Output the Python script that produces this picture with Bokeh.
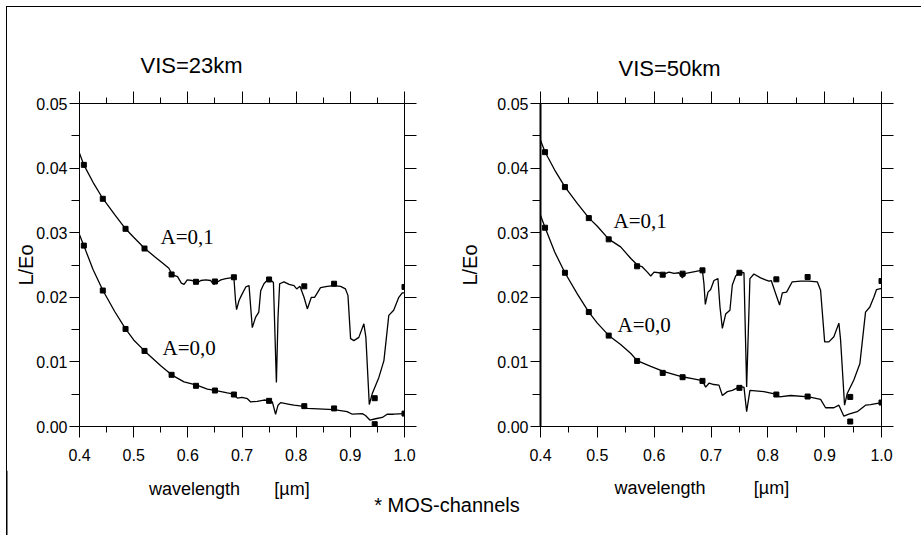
from bokeh.plotting import figure
from bokeh.layouts import row, column
from bokeh.models import (Range1d, LinearAxis, FixedTicker, PrintfTickFormatter,
                          Label, ColumnDataSource)
from bokeh.core.properties import value
from bokeh.embed import file_html
from bokeh.resources import INLINE

# ---------------- data ----------------
MOS_CHANNELS = [0.408, 0.443, 0.485, 0.520, 0.570, 0.615, 0.650, 0.685,
                0.750, 0.815, 0.870, 0.945, 1.000]

X_TICKS = [0.4, 0.5, 0.6, 0.7, 0.8, 0.9, 1.0]
X_MINOR = [0.45, 0.55, 0.65, 0.75, 0.85, 0.95]
Y_TICKS = [0.00, 0.01, 0.02, 0.03, 0.04, 0.05]
Y_MINOR = [0.005, 0.015, 0.025, 0.035, 0.045]

# VIS = 23 km
vis23_a01_wl = [0.400, 0.408, 0.425, 0.443, 0.465, 0.485, 0.500, 0.520, 0.540, 0.555,
                0.565, 0.571, 0.581, 0.588, 0.593, 0.599, 0.608, 0.6165, 0.624, 0.633,
                0.642, 0.648, 0.653, 0.661, 0.670, 0.685, 0.688, 0.690, 0.6945, 0.699,
                0.707, 0.713, 0.716, 0.719, 0.725, 0.731, 0.7345, 0.7405, 0.747, 0.753,
                0.758, 0.7635, 0.7665, 0.7695, 0.7775, 0.787, 0.796, 0.801, 0.807, 0.8145,
                0.8206, 0.828, 0.834, 0.845, 0.8575, 0.870, 0.882, 0.891, 0.8956, 0.9005,
                0.9066, 0.9157, 0.925, 0.9287, 0.935, 0.9405, 0.9527, 0.962, 0.971, 0.980,
                0.9895, 0.9958, 1.000]
vis23_a01_L = [0.0423, 0.0405, 0.0378, 0.0353, 0.0328, 0.0306, 0.0293, 0.0276, 0.0262, 0.0252,
               0.0245, 0.0235, 0.0232, 0.0222, 0.0220, 0.0227, 0.0226, 0.0222, 0.0226, 0.0227,
               0.0226, 0.0220, 0.0223, 0.0227, 0.0229, 0.0231, 0.0195, 0.0181, 0.0195, 0.0203,
               0.0216, 0.0218, 0.0185, 0.0153, 0.0169, 0.0177, 0.0210, 0.0221, 0.0227, 0.0227,
               0.0223, 0.0068, 0.0169, 0.0221, 0.0224, 0.0220, 0.0218, 0.0213, 0.0217, 0.0200,
               0.0182, 0.0200, 0.0200, 0.0215, 0.0217, 0.0218, 0.0217, 0.0213, 0.0203, 0.0136,
               0.0133, 0.0138, 0.0159, 0.0138, 0.0034, 0.0051, 0.0076, 0.0102, 0.0172, 0.0180,
               0.0200, 0.0207, 0.0207]
vis23_a00_wl = [0.400, 0.408, 0.425, 0.443, 0.465, 0.485, 0.500, 0.520, 0.550, 0.570,
                0.593, 0.6165, 0.636, 0.650, 0.673, 0.685, 0.6915, 0.700, 0.710, 0.716,
                0.728, 0.7405, 0.750, 0.756, 0.762, 0.7665, 0.7713, 0.790, 0.796, 0.8145,
                0.8206, 0.870, 0.894, 0.9036, 0.922, 0.928, 0.936, 0.9466, 0.959, 0.968,
                0.980, 1.000]
vis23_a00_L = [0.0297, 0.0280, 0.0243, 0.0211, 0.0178, 0.0151, 0.0134, 0.0117, 0.0094, 0.0080,
               0.0069, 0.0064, 0.0058, 0.0056, 0.0052, 0.0050, 0.0044, 0.0045, 0.0043, 0.0038,
               0.0039, 0.0041, 0.0040, 0.0038, 0.0019, 0.0033, 0.0037, 0.0034, 0.0033, 0.0031,
               0.0028, 0.0026, 0.0023, 0.0019, 0.0020, 0.0017, 0.0010, 0.0012, 0.0014, 0.0019,
               0.0019, 0.0020]
vis23_mos_a01 = [0.0405, 0.03525, 0.0306, 0.02755, 0.02353, 0.0224, 0.02245, 0.0231,
                 0.02276, 0.0217, 0.0221, 0.00438, 0.0216]
vis23_mos_a00 = [0.0280, 0.02105, 0.0151, 0.0117, 0.0080, 0.0063, 0.00557, 0.00495,
                 0.00397, 0.00315, 0.0028, 0.00036, 0.0020]

# VIS = 50 km
vis50_a01_wl = [0.400, 0.408, 0.425, 0.443, 0.465, 0.485, 0.500, 0.520, 0.541, 0.559,
                0.5705, 0.5793, 0.588, 0.594, 0.5998, 0.6085, 0.6173, 0.626, 0.635, 0.6437,
                0.6496, 0.6555, 0.667, 0.6848, 0.6876, 0.690, 0.6947, 0.6994, 0.7052, 0.7122,
                0.7158, 0.720, 0.7258, 0.7333, 0.7375, 0.7434, 0.751, 0.758, 0.7627, 0.7685,
                0.7755, 0.7873, 0.796, 0.8019, 0.806, 0.8137, 0.8207, 0.8255, 0.833, 0.843,
                0.8577, 0.8722, 0.887, 0.8928, 0.900, 0.9074, 0.9162, 0.925, 0.928, 0.935,
                0.9397, 0.9513, 0.9619, 0.9719, 0.9795, 0.9865, 0.9913, 1.000]
vis50_a01_L = [0.0443, 0.0425, 0.0397, 0.0371, 0.0345, 0.0323, 0.0310, 0.0290, 0.0278, 0.0260,
               0.0250, 0.0247, 0.0239, 0.0233, 0.0239, 0.0238, 0.0236, 0.0239, 0.0237, 0.0238,
               0.0230, 0.0237, 0.0239, 0.0242, 0.0221, 0.0189, 0.0208, 0.0212, 0.0226, 0.0229,
               0.0185, 0.0152, 0.0174, 0.0180, 0.0219, 0.0233, 0.0239, 0.0238, 0.0061, 0.0229,
               0.0236, 0.0230, 0.0227, 0.0225, 0.0226, 0.0206, 0.0188, 0.0207, 0.0208, 0.0224,
               0.0225, 0.0225, 0.0224, 0.0211, 0.0131, 0.0131, 0.0139, 0.0160, 0.0134, 0.0033,
               0.0051, 0.0072, 0.0097, 0.0177, 0.0185, 0.0200, 0.0212, 0.0214]
vis50_a00_wl = [0.400, 0.408, 0.425, 0.443, 0.465, 0.485, 0.500, 0.520, 0.541, 0.559,
                0.570, 0.594, 0.6173, 0.6496, 0.667, 0.6848, 0.6906, 0.6964, 0.7052, 0.714,
                0.720, 0.7288, 0.7375, 0.7492, 0.758, 0.7627, 0.7685, 0.793, 0.8137, 0.8207,
                0.840, 0.8722, 0.8928, 0.9016, 0.9162, 0.925, 0.9338, 0.9425, 0.9573, 0.9719,
                0.9807, 1.000]
vis50_a00_L = [0.0327, 0.0308, 0.0270, 0.0238, 0.0205, 0.0177, 0.0160, 0.0141, 0.0127, 0.0113,
               0.0102, 0.0093, 0.0085, 0.0077, 0.0074, 0.0071, 0.0061, 0.0067, 0.0065, 0.0064,
               0.0048, 0.0054, 0.0056, 0.0061, 0.0061, 0.0023, 0.0056, 0.0054, 0.0050, 0.0046,
               0.0048, 0.0046, 0.0042, 0.0029, 0.0029, 0.0033, 0.0016, 0.0019, 0.0023, 0.0033,
               0.0034, 0.0037]
vis50_mos_a01 = [0.04247, 0.03706, 0.03226, 0.02897, 0.0248, 0.0235, 0.02366, 0.02417,
                 0.0238, 0.02278, 0.02314, 0.00458, 0.02252]
vis50_mos_a00 = [0.03077, 0.0238, 0.01772, 0.01407, 0.01015, 0.0083, 0.00763, 0.00706,
                 0.00598, 0.00495, 0.00464, 0.00077, 0.00371]

SANS = "Liberation Sans"
SERIF = "Liberation Serif"
X0, X1, Y0, Y1 = 0.4, 1.0, 0.0, 0.05


def transparent(p):
    p.border_fill_alpha = 0
    p.background_fill_alpha = 0


def panel(width, height, fl, fw, ft, fh, page_left, page_top, title, title_off,
          title_standoff, ylab_standoff, a01_pos, a00_pos, wl01, L01, wl00, L00,
          mos01, mos00, thick_left=False):
    p = figure(width=width, height=height, output_backend="svg", toolbar_location=None,
               x_range=Range1d(X0, X1), y_range=Range1d(Y0, Y1),
               x_axis_location=None, y_axis_location=None)
    p.min_border_left = fl
    p.min_border_right = width - fl - fw
    p.min_border_top = ft
    p.min_border_bottom = height - ft - fh
    p.outline_line_color = None
    p.xgrid.visible = False
    p.ygrid.visible = False
    transparent(p)

    p.title.text = title
    p.title.align = "left"
    p.title.offset = title_off
    p.title.standoff = title_standoff
    p.title.text_font = SANS
    p.title.text_font_size = "22px"
    p.title.text_font_style = "normal"
    p.title.text_color = "black"

    xt = FixedTicker(ticks=X_TICKS, minor_ticks=X_MINOR)
    yt = FixedTicker(ticks=Y_TICKS, minor_ticks=Y_MINOR)

    def style(ax, tout, mout, labels, standoff=2):
        ax.axis_line_color = "black"
        ax.axis_line_width = 1
        ax.major_tick_line_color = "black"
        ax.minor_tick_line_color = "black"
        ax.major_tick_in = 0
        ax.minor_tick_in = 0
        ax.major_tick_out = tout
        ax.minor_tick_out = mout
        ax.major_label_standoff = standoff
        if labels:
            ax.major_label_text_font = SANS
            ax.major_label_text_font_size = "16px"
            ax.major_label_text_color = "black"
        else:
            ax.major_label_text_font_size = "0px"
            ax.major_label_text_alpha = 0

    bottom = LinearAxis(ticker=xt, formatter=PrintfTickFormatter(format="%.1f"))
    style(bottom, 11, 6, True, standoff=11)
    p.add_layout(bottom, "below")
    top = LinearAxis(ticker=xt)
    style(top, 12, 6, False, standoff=0)
    p.add_layout(top, "above")
    left = LinearAxis(ticker=yt, formatter=PrintfTickFormatter(format="%.2f"),
                      axis_label="L/Eo")
    style(left, 10, 8, True, standoff=2)
    left.axis_label_text_font = SANS
    left.axis_label_text_font_size = "20px"
    left.axis_label_text_font_style = "normal"
    left.axis_label_text_color = "black"
    left.axis_label_standoff = ylab_standoff
    if thick_left:
        left.axis_line_width = 2
    p.add_layout(left, "left")
    right = LinearAxis(ticker=yt)
    style(right, 12, 12, False, standoff=0)
    p.add_layout(right, "right")

    p.line(wl01, L01, line_color="black", line_width=1.3)
    p.line(wl00, L00, line_color="black", line_width=1.3)
    p.scatter(MOS_CHANNELS, mos01, marker="square", size=5, color="black")
    p.scatter(MOS_CHANNELS, mos00, marker="square", size=5, color="black")

    # page -> data mapping for the in-frame curve labels
    def X(px):
        return X0 + (px - page_left - fl) / fw * (X1 - X0)

    def Y(py):
        return Y1 - (py - page_top - ft) / fh * (Y1 - Y0)

    for (lx, ly), txt in ((a01_pos, "A=0,1"), (a00_pos, "A=0,0")):
        p.add_layout(Label(x=X(lx), y=Y(ly), text=txt, text_align="left",
                           text_baseline="middle", text_font=SERIF, text_font_size="21px",
                           text_color="black"))
    return p


p1 = panel(447, 470, 79, 325, 103, 323, 0, 0, "VIS=23km", 61, 27, -4,
           (160, 236), (162, 347), vis23_a01_wl, vis23_a01_L, vis23_a00_wl, vis23_a00_L,
           vis23_mos_a01, vis23_mos_a00)
p2 = panel(474, 470, 93, 341, 103, 323, 447, 0, "VIS=50km", 78, 21, 13,
           (613, 220), (617, 324), vis50_a01_wl, vis50_a01_L, vis50_a00_wl, vis50_a00_L,
           vis50_mos_a01, vis50_mos_a00, thick_left=True)

# bottom strip with axis captions and the note (page coordinates)
p3 = figure(width=921, height=65, output_backend="svg", toolbar_location=None,
            x_range=Range1d(0, 921), y_range=Range1d(535, 470),
            x_axis_location=None, y_axis_location=None)
p3.min_border_left = 0
p3.min_border_right = 0
p3.min_border_top = 0
p3.min_border_bottom = 0
p3.outline_line_color = None
p3.xgrid.visible = False
p3.ygrid.visible = False
transparent(p3)
captions = ColumnDataSource(dict(
    x=[194, 291.5, 659.5, 771, 446.5],
    y=[488, 488, 487, 487, 504],
    t=["wavelength", "[µm]", "wavelength", "[µm]", "* MOS-channels"],
    s=["18px", "18px", "18px", "18px", "20px"],
))
p3.text(x="x", y="y", text="t", source=captions, text_align="center",
        text_baseline="middle", text_font=value(SANS), text_font_size="s",
        text_color="black")
p3.line([6.5, 6.5], [470, 535], line_color="black", line_width=1)

# outer frame (top and left edges) painted behind the transparent figures
frame_css = {"background": "linear-gradient(#000,#000) 6px 6px / 1px calc(100% - 6px) no-repeat, "
                           "linear-gradient(#000,#000) 6px 6px / calc(100% - 6px) 1px no-repeat, "
                           "#ffffff"}
layout = column(row(p1, p2), p3, styles=frame_css)
open("out.html", "w").write(file_html(layout, INLINE))
